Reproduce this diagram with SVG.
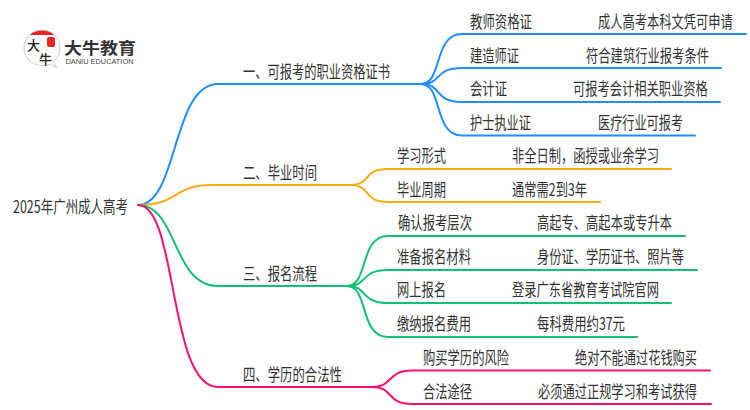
<svg xmlns="http://www.w3.org/2000/svg" width="750" height="410" viewBox="0 0 750 410">
<style>
text{font-family:"Noto Sans CJK SC","Noto Sans",sans-serif;font-size:17px;fill:#333}
.c{fill:none;stroke-width:2;stroke-linecap:round}
.b{stroke:#1e8fff}.o{stroke:#fdac14}.g{stroke:#12c173}.p{stroke:#fb0f73}
</style>
<rect width="750" height="410" fill="#fff"/>
<g id="logo">
<path d="M50 64C38 69 24 61 24 48C24 38 32 30 42 30C52 30 60 38 60 48C60 54 57 59 53 62L57 68Z" fill="#fff" stroke="#c9c9c9" stroke-width="1"/>
<path d="M30 35C35 29 49 29 54 35Z" fill="#e8242a"/>
<rect x="47" y="37" width="8" height="10" rx="2" fill="#e8242a"/>
<text x="27" y="50" style="font-size:13px;font-weight:500;fill:#222" textLength="13" lengthAdjust="spacingAndGlyphs">大</text>
<text x="39" y="64" style="font-size:13px;font-weight:500;fill:#222" textLength="13" lengthAdjust="spacingAndGlyphs">牛</text>
<text x="64" y="53.500" style="font-size:16px;font-weight:700;fill:#333" textLength="72" lengthAdjust="spacingAndGlyphs">大牛教育</text>
<text x="65.500" y="64.300" style="font-size:6.500px;font-family:'Liberation Sans',sans-serif;fill:#444" textLength="68" lengthAdjust="spacingAndGlyphs">DANIU EDUCATION</text>
</g>
<g id="connectors">
<path class="c b" d="M138 205C178 205 172 84 218 84H421"/>
<path class="c o" d="M138 205C180 205 172 185 212 185H350"/>
<path class="c g" d="M138 205C178 205 172 286 218 286H347"/>
<path class="c p" d="M138 205C178 205 168 387 218 387H372"/>
<path class="c b" d="M421 84C443 84 433 34 462 34H746"/>
<path class="c b" d="M421 84C443 84 433 68 462 68H721"/>
<path class="c b" d="M421 84C443 84 433 102 462 102H720"/>
<path class="c b" d="M421 84C443 84 433 135.500 462 135.500H695"/>
<path class="c o" d="M350 185C372 185 362 169 388 169H671"/>
<path class="c o" d="M350 185C372 185 362 202 388 202H600"/>
<path class="c g" d="M347 286C369 286 359 236 388 236H685"/>
<path class="c g" d="M347 286C369 286 359 270 388 270H697"/>
<path class="c g" d="M347 286C369 286 359 303 388 303H671"/>
<path class="c g" d="M347 286C369 286 359 337 388 337H637"/>
<path class="c p" d="M372 387C394 387 386 370.500 412 370.500H710"/>
<path class="c p" d="M372 387C394 387 386 404 412 404H711"/>
</g>
<g id="root"><text x="13" y="213" textLength="115" lengthAdjust="spacingAndGlyphs">2025年广州成人高考</text></g>
<g id="n1"><text x="243" y="78" textLength="147" lengthAdjust="spacingAndGlyphs">一、可报考的职业资格证书</text></g>
<g id="n1-1"><text x="470" y="28" textLength="62" lengthAdjust="spacingAndGlyphs">教师资格证</text><g transform="translate(598 28) scale(.722 1)"><text x="0" y="0">成人高考本科文凭可申请</text></g></g>
<g id="n1-2"><text x="470" y="62" textLength="49" lengthAdjust="spacingAndGlyphs">建造师证</text><g transform="translate(586 62) scale(.724 1)"><text x="0" y="0">符合建筑行业报考条件</text></g></g>
<g id="n1-3"><text x="470" y="95" textLength="37" lengthAdjust="spacingAndGlyphs">会计证</text><g transform="translate(573 95) scale(.722 1)"><text x="0" y="0">可报考会计相关职业资格</text></g></g>
<g id="n1-4"><text x="470" y="129" textLength="61" lengthAdjust="spacingAndGlyphs">护士执业证</text><text x="598" y="129" textLength="85" lengthAdjust="spacingAndGlyphs">医疗行业可报考</text></g>
<g id="n2"><text x="243" y="179" textLength="74" lengthAdjust="spacingAndGlyphs">二、毕业时间</text></g>
<g id="n2-1"><text x="397" y="162" textLength="49" lengthAdjust="spacingAndGlyphs">学习形式</text><text x="512" y="162" textLength="147" lengthAdjust="spacingAndGlyphs">非全日制，函授或业余学习</text></g>
<g id="n2-2"><text x="397" y="196" textLength="49" lengthAdjust="spacingAndGlyphs">毕业周期</text><text x="512" y="196" textLength="75" lengthAdjust="spacingAndGlyphs">通常需2到3年</text></g>
<g id="n3"><text x="243" y="280" textLength="74" lengthAdjust="spacingAndGlyphs">三、报名流程</text></g>
<g id="n3-1"><text x="398" y="229" textLength="74" lengthAdjust="spacingAndGlyphs">确认报考层次</text><text x="537" y="229" textLength="135" lengthAdjust="spacingAndGlyphs">高起专、高起本或专升本</text></g>
<g id="n3-2"><text x="397" y="263" textLength="74" lengthAdjust="spacingAndGlyphs">准备报名材料</text><text x="537" y="263" textLength="147" lengthAdjust="spacingAndGlyphs">身份证、学历证书、照片等</text></g>
<g id="n3-3"><text x="397" y="296" textLength="49" lengthAdjust="spacingAndGlyphs">网上报名</text><text x="512" y="296" textLength="147" lengthAdjust="spacingAndGlyphs">登录广东省教育考试院官网</text></g>
<g id="n3-4"><text x="397" y="330" textLength="74" lengthAdjust="spacingAndGlyphs">缴纳报名费用</text><text x="537" y="330" textLength="88" lengthAdjust="spacingAndGlyphs">每科费用约37元</text></g>
<g id="n4"><text x="243" y="381" textLength="99" lengthAdjust="spacingAndGlyphs">四、学历的合法性</text></g>
<g id="n4-1"><text x="423" y="364" textLength="86" lengthAdjust="spacingAndGlyphs">购买学历的风险</text><text x="575" y="364" textLength="122" lengthAdjust="spacingAndGlyphs">绝对不能通过花钱购买</text></g>
<g id="n4-2"><text x="423" y="398" textLength="49" lengthAdjust="spacingAndGlyphs">合法途径</text><g transform="translate(538 398) scale(.72 1)"><text x="0" y="0">必须通过正规学习和考试获得</text></g></g>
</svg>
